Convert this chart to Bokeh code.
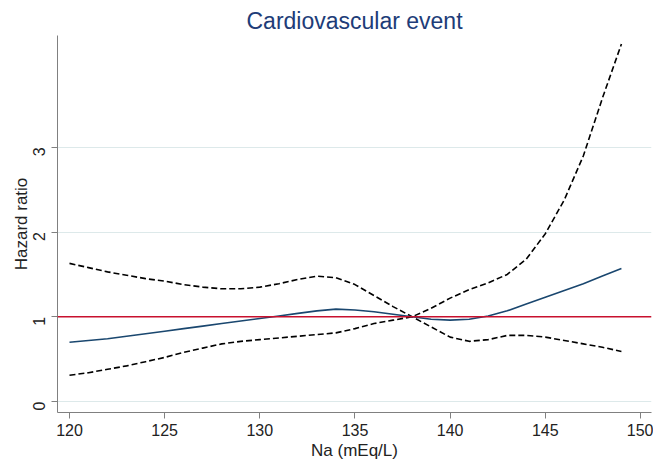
import math
from bokeh.plotting import figure
from bokeh.models import Range1d, FixedTicker, Span
from bokeh.embed import file_html
from bokeh.resources import INLINE

# Data
na = [120, 121, 122, 123, 124, 125, 126, 127, 128, 129,
      130, 131, 132, 133, 134, 135, 136, 137, 138, 139,
      140, 141, 142, 143, 144, 145, 146, 147, 148, 149]
hr = [0.70, 0.72, 0.74, 0.77, 0.80, 0.83, 0.86, 0.89, 0.92, 0.95,
      0.98, 1.01, 1.04, 1.07, 1.09, 1.08, 1.06, 1.03, 1.00, 0.97,
      0.96, 0.97, 1.01, 1.07, 1.15, 1.23, 1.31, 1.39, 1.48, 1.57]
ci_a = [1.63, 1.58, 1.53, 1.49, 1.45, 1.42, 1.38, 1.35, 1.33, 1.33,
        1.35, 1.39, 1.44, 1.48, 1.46, 1.38, 1.25, 1.12, 1.00, 0.88,
        0.76, 0.71, 0.73, 0.78, 0.78, 0.76, 0.72, 0.68, 0.64, 0.59]
ci_b = [0.31, 0.34, 0.38, 0.42, 0.47, 0.52, 0.58, 0.63, 0.68, 0.71,
        0.73, 0.75, 0.77, 0.79, 0.81, 0.86, 0.92, 0.96, 1.00, 1.10,
        1.22, 1.32, 1.40, 1.50, 1.68, 1.98, 2.38, 2.90, 3.58, 4.22]
x_ticks = [120, 125, 130, 135, 140, 145, 150]
y_ticks = [0, 1, 2, 3]
ref_value = 1

FONT = "Liberation Sans"

p = figure(width=653, height=462, output_backend="svg", toolbar_location=None,
           x_range=Range1d(119.37, 150.58), y_range=Range1d(-0.13, 4.32),
           min_border_left=57, min_border_right=2, min_border_top=35, min_border_bottom=49,
           title="Cardiovascular event")

p.title.text_font = FONT
p.title.text_font_size = "23px"
p.title.text_font_style = "normal"
p.title.text_color = "#203c78"
p.title.align = "center"
p.title.standoff = 4

p.outline_line_color = None
p.background_fill_color = "white"
p.border_fill_color = "white"

p.xgrid.grid_line_color = None
p.ygrid.grid_line_color = "#dde9ea"
p.ygrid.grid_line_width = 1
p.ygrid.ticker = FixedTicker(ticks=y_ticks)

p.xaxis.ticker = FixedTicker(ticks=x_ticks)
p.yaxis.ticker = FixedTicker(ticks=y_ticks)
p.xaxis.axis_label = "Na (mEq/L)"
p.yaxis.axis_label = "Hazard ratio"
p.yaxis.major_label_orientation = math.pi / 2

for ax in (p.xaxis, p.yaxis):
    ax.axis_line_color = "#808080"
    ax.major_tick_line_color = "#808080"
    ax.minor_tick_line_color = None
    ax.major_tick_out = 6
    ax.major_tick_in = 0
    ax.major_label_text_font = FONT
    ax.major_label_text_font_size = "16px"
    ax.major_label_text_color = "#222222"
    ax.axis_label_text_font = FONT
    ax.axis_label_text_font_size = "17px"
    ax.axis_label_text_font_style = "normal"
    ax.axis_label_text_color = "#222222"

p.xaxis.major_label_standoff = 5
p.xaxis.axis_label_standoff = 2
p.yaxis.major_label_standoff = 12
p.yaxis.axis_label_standoff = -6

p.add_layout(Span(location=ref_value, dimension="width", line_color="#c8102e", line_width=1.5))

p.line(na, ci_a, line_color="black", line_width=1.6, line_dash="6 3")
p.line(na, ci_b, line_color="black", line_width=1.6, line_dash="6 3")
p.line(na, hr, line_color="#1a476f", line_width=1.6)

open("out.html", "w").write(file_html(p, INLINE))
